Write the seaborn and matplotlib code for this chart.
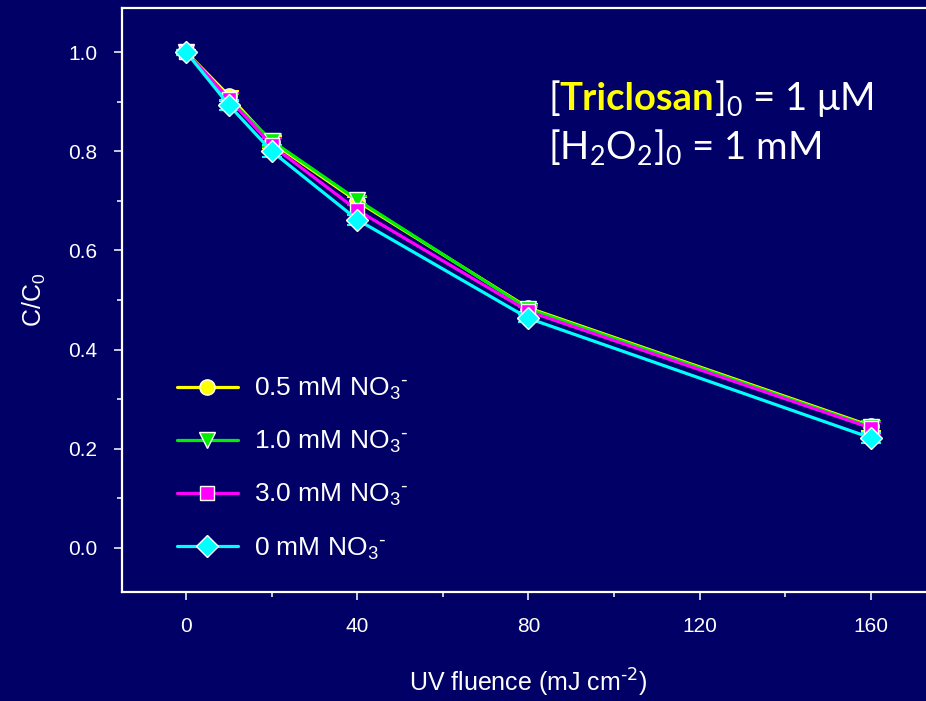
import matplotlib
matplotlib.use("Agg")
import matplotlib.pyplot as plt
import seaborn as sns
import numpy as np
from matplotlib.offsetbox import TextArea, HPacker, VPacker, AnchoredOffsetbox
from matplotlib.ticker import MultipleLocator

# ---- data ----
fluence = [0, 10, 20, 40, 80, 160]
series_labels = ["0.5 mM NO$_3$$^{\\text{-}}$", "1.0 mM NO$_3$$^{\\text{-}}$",
                 "3.0 mM NO$_3$$^{\\text{-}}$", "0 mM NO$_3$$^{\\text{-}}$"]
c_05 = [1.0, 0.912, 0.818, 0.699, 0.484, 0.246]
c_10 = [1.0, 0.905, 0.821, 0.702, 0.482, 0.244]
c_30 = [1.0, 0.906, 0.812, 0.681, 0.477, 0.242]
c_00 = [1.0, 0.893, 0.800, 0.662, 0.463, 0.222]
err_05 = [0.005, 0.010, 0.012, 0.008, 0.008, 0.010]
err_10 = [0.005, 0.010, 0.013, 0.008, 0.008, 0.012]
err_30 = [0.005, 0.012, 0.014, 0.010, 0.008, 0.012]
err_00 = [0.005, 0.010, 0.012, 0.010, 0.008, 0.010]
x_ticks = [0, 40, 80, 120, 160]
y_ticks = [0.0, 0.2, 0.4, 0.6, 0.8, 1.0]

colors = ["#FFFF00", "#00EE00", "#FF00FF", "#00FFFF"]
markers = ["o", "v", "s", "D"]
msizes = [11, 12, 10, 11.5]

BG = "#000066"
sns.set_style("white")
plt.rcParams["font.family"] = ["Liberation Sans", "DejaVu Sans"]
plt.rcParams["mathtext.default"] = "regular"

fig = plt.figure(figsize=(9.26, 7.01), dpi=100, facecolor=BG)
W, H = 926, 701
left, right, top, bottom = 122, 935, 8, 592
ax = fig.add_axes([left / W, 1 - bottom / H, (right - left) / W, (bottom - top) / H])
ax.set_facecolor(BG)

all_vals = [c_05, c_10, c_30, c_00]
all_errs = [err_05, err_10, err_30, err_00]
for vals, errs, col, mk, ms, lab in zip(all_vals, all_errs, colors, markers, msizes, series_labels):
    ax.errorbar(fluence, vals, yerr=errs, fmt="none", ecolor=col, elinewidth=1.5,
                capsize=7.5, capthick=1.5, zorder=2)
    sns.lineplot(x=fluence, y=vals, ax=ax, color=col, marker=mk, markersize=ms,
                 markeredgecolor="white", markeredgewidth=1.0, linewidth=2.3,
                 label=lab, zorder=3)

ax.set_xlim(-15, 175)
ax.set_ylim(-0.089, 1.089)
ax.set_xticks(x_ticks)
ax.set_yticks(y_ticks)
ax.set_xticklabels([str(v) for v in x_ticks])
ax.set_yticklabels([f"{v:.1f}" for v in y_ticks])
ax.xaxis.set_minor_locator(MultipleLocator(20))
ax.yaxis.set_minor_locator(MultipleLocator(0.1))
ax.tick_params(axis="both", which="major", direction="out", length=6, width=1.1,
               color="white", labelcolor="white", labelsize=15, pad=12)
ax.tick_params(axis="both", which="minor", direction="out", length=3.5, width=1.1,
               color="white")
ax.tick_params(axis="x", which="both", bottom=True)
ax.tick_params(axis="y", which="both", left=True)
for sp in ax.spines.values():
    sp.set_color("white")
    sp.set_linewidth(1.6)
ax.spines["right"].set_visible(False)

ax.set_xlabel("UV fluence (mJ cm$^{\\text{-2}}$)", color="white", fontsize=18, labelpad=22)
ax.set_ylabel("C/C$_0$", color="white", fontsize=18, labelpad=14)

leg = ax.legend(loc="upper left", bbox_to_anchor=(177 / W, 1 - 376 / H),
                bbox_transform=fig.transFigure, frameon=False, fontsize=19,
                labelcolor="white", handlelength=2.3, handletextpad=0.6,
                labelspacing=1.02, borderpad=0, borderaxespad=0)

# ---- annotation ----
afam = ["Lato", "DejaVu Sans"]
fs = 27.5
t1 = TextArea("[", textprops=dict(color="white", fontsize=fs, family=afam))
t2 = TextArea("Triclosan", textprops=dict(color="#FFFF00", fontsize=fs, family=afam, fontweight="bold"))
t3 = TextArea("]$_0$ = 1 \u03bcM", textprops=dict(color="white", fontsize=fs, family=afam))
line1 = HPacker(children=[t1, t2, t3], align="baseline", pad=0, sep=0)
line2 = TextArea("[H$_2$O$_2$]$_0$ = 1 mM", textprops=dict(color="white", fontsize=fs, family=afam))
block = VPacker(children=[line1, line2], align="left", pad=0, sep=6)
anch = AnchoredOffsetbox(loc="upper left", child=block, pad=0, borderpad=0, frameon=False,
                         bbox_to_anchor=(548 / W, 1 - 78 / H), bbox_transform=fig.transFigure)
ax.add_artist(anch)

fig.savefig("out.png", dpi=100, facecolor=BG)
